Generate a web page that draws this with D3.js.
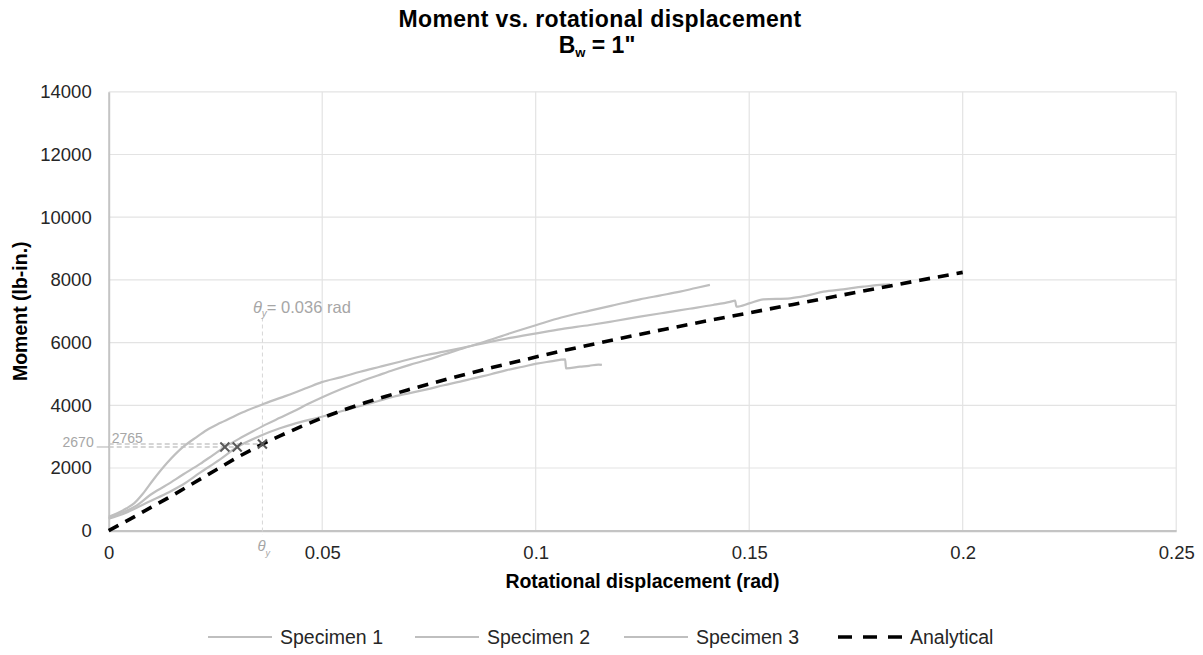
<!DOCTYPE html>
<html>
<head>
<meta charset="utf-8">
<script src="https://cdn.jsdelivr.net/npm/d3@7"></script>
<style>
  body { margin: 0; background: #fff; }
  svg { display: block; }
  text { font-family: "Liberation Sans", Arial, sans-serif; }
</style>
</head>
<body>
<svg id="chart" width="1203" height="655"></svg>
<script>
// Axis ticks
const xTicks = [0, 0.05, 0.1, 0.15, 0.2, 0.25];
const xTickLabels = ["0", "0.05", "0.1", "0.15", "0.2", "0.25"];
const yTicks = [0, 2000, 4000, 6000, 8000, 10000, 12000, 14000];
const yTickLabels = ["0", "2000", "4000", "6000", "8000", "10000", "12000", "14000"];

const seriesNames = ["Specimen 1", "Specimen 2", "Specimen 3", "Analytical"];

// Specimen 1 — rotation (rad) and moment (lb-in.)
const spec1Rot = [0, 0.002, 0.0042, 0.0060, 0.0080, 0.0104, 0.0136, 0.0175, 0.0205, 0.0230, 0.0262, 0.0292, 0.0325,
  0.0362, 0.0400, 0.0432, 0.0465, 0.0499, 0.0545, 0.0589, 0.0635, 0.0682, 0.0745, 0.0785, 0.0823, 0.0885,
  0.0940, 0.1002, 0.1060, 0.1127, 0.1185, 0.1244, 0.1300, 0.1360, 0.1415, 0.1455, 0.1467, 0.1470, 0.1500,
  0.1533, 0.1596, 0.1635, 0.1674, 0.1720, 0.1767, 0.1814, 0.1830];
const spec1Moment = [447, 560, 714, 880, 1180, 1617, 2150, 2680, 2980, 3212, 3440, 3636, 3840,
  4040, 4230, 4383, 4560, 4740, 4900, 5072, 5230, 5391, 5604, 5710, 5818, 6000,
  6150, 6296, 6430, 6561, 6690, 6826, 6950, 7080, 7200, 7300, 7337, 7145, 7250,
  7380, 7413, 7500, 7624, 7700, 7783, 7850, 7860];

// Specimen 2
const spec2Rot = [0, 0.002, 0.0042, 0.0065, 0.0097, 0.0136, 0.0175, 0.0214, 0.0245, 0.0272, 0.0305, 0.0339,
  0.0370, 0.0401, 0.0432, 0.0465, 0.0499, 0.0545, 0.0589, 0.0630, 0.0667, 0.0705, 0.0745, 0.0785, 0.0823,
  0.0885, 0.0940, 0.1002, 0.1060, 0.1127, 0.1185, 0.1244, 0.1290, 0.1338, 0.1375, 0.1408];
const spec2Moment = [400, 520, 640, 800, 1139, 1460, 1800, 2130, 2420, 2670, 2930, 3180,
  3400, 3600, 3800, 4030, 4250, 4520, 4753, 4950, 5126, 5290, 5445, 5620, 5786,
  6050, 6300, 6561, 6800, 7020, 7200, 7380, 7500, 7624, 7740, 7840];

// Specimen 3
const spec3Rot = [0, 0.002, 0.0045, 0.0080, 0.0136, 0.0175, 0.0214, 0.0260, 0.0301, 0.0354, 0.0401, 0.0432,
  0.0499, 0.0545, 0.0589, 0.0630, 0.0667, 0.0705, 0.0745, 0.0785, 0.0823, 0.0854, 0.0895, 0.0932, 0.0970,
  0.1002, 0.1035, 0.1069, 0.1071, 0.1104, 0.1125, 0.1147, 0.1155];
const spec3Moment = [380, 470, 600, 830, 1193, 1480, 1850, 2270, 2670, 3020, 3266, 3400,
  3636, 3810, 3978, 4130, 4274, 4390, 4510, 4640, 4753, 4860, 4990, 5120, 5230,
  5330, 5400, 5467, 5180, 5231, 5260, 5300, 5290];

// Analytical model
const analyticRot = [0, 0.005, 0.01, 0.015, 0.02, 0.025, 0.03, 0.036, 0.04, 0.045, 0.05, 0.055, 0.06, 0.065,
  0.07, 0.08, 0.09, 0.1, 0.11, 0.12, 0.13, 0.14, 0.15, 0.16, 0.17, 0.18, 0.19, 0.2];
const analyticMoment = [0, 370, 750, 1130, 1530, 1930, 2330, 2765, 3020, 3320, 3600, 3850, 4080, 4290,
  4490, 4860, 5210, 5540, 5850, 6140, 6420, 6690, 6950, 7210, 7470, 7730, 7990, 8240];

// Yield points
const yieldRot = 0.036;
const yieldMoment = 2765;
const testYieldMoment = 2670;
const testYieldRots = [0.0272, 0.0301];
const guideTopMoment = 6800;

const svg = d3.select("#chart");
const W = 1203, H = 655;
const margin = { left: 108.7, right: W - 1176.2, top: 91.8, bottom: H - 530.7 };

const x = d3.scaleLinear().domain([0, 0.25]).range([margin.left, W - margin.right]);
const y = d3.scaleLinear().domain([0, 14000]).range([H - margin.bottom, margin.top]);

const gridColor = "#e3e3e3";
const axisColor = "#c4c4c4";
const specColor = "#bfbfbf";
const annColor = "#a6a6a6";
const tickColor = "#262626";

// Gridlines
svg.append("g")
  .selectAll("line")
  .data(yTicks.filter(d => d > 0))
  .join("line")
  .attr("x1", x(0)).attr("x2", x(0.25))
  .attr("y1", d => y(d)).attr("y2", d => y(d))
  .attr("stroke", gridColor).attr("stroke-width", 1.2);

svg.append("g")
  .selectAll("line")
  .data(xTicks.filter(d => d > 0))
  .join("line")
  .attr("x1", d => x(d)).attr("x2", d => x(d))
  .attr("y1", y(14000)).attr("y2", y(0))
  .attr("stroke", gridColor).attr("stroke-width", 1.2);

// Axes via d3 axis generators
const yAxis = d3.axisLeft(y).tickValues(yTicks).tickFormat((d, i) => yTickLabels[i]).tickSize(0).tickPadding(17);
const gy = svg.append("g").attr("transform", `translate(${x(0)},0)`).call(yAxis);
gy.select(".domain").attr("stroke", axisColor).attr("stroke-width", 2);
gy.selectAll("text").attr("font-size", 18.5).attr("fill", tickColor).attr("font-family", "Liberation Sans, Arial, sans-serif");

const xAxis = d3.axisBottom(x).tickValues(xTicks).tickFormat((d, i) => xTickLabels[i]).tickSize(0).tickPadding(15);
const gx = svg.append("g").attr("transform", `translate(0,${y(0)})`).call(xAxis);
gx.select(".domain").attr("stroke", axisColor).attr("stroke-width", 2.2);
gx.selectAll("text").attr("font-size", 18.5).attr("fill", tickColor).attr("font-family", "Liberation Sans, Arial, sans-serif");

// Yield guide lines
const guides = svg.append("g").attr("stroke", "#c8c8c8").attr("stroke-width", 1.4).attr("fill", "none");
guides.append("line")
  .attr("x1", x(yieldRot)).attr("x2", x(yieldRot))
  .attr("y1", y(guideTopMoment)).attr("y2", y(0) + 4)
  .attr("stroke", "#d6d6d6").attr("stroke-width", 1).attr("stroke-dasharray", "4,3");
guides.append("line")
  .attr("x1", x(0)).attr("x2", x(testYieldRots[1]))
  .attr("y1", y(testYieldMoment)).attr("y2", y(testYieldMoment))
  .attr("stroke-dasharray", "5,3");
guides.append("line")
  .attr("x1", x(0)).attr("x2", x(yieldRot))
  .attr("y1", y(yieldMoment)).attr("y2", y(yieldMoment))
  .attr("stroke-dasharray", "5,3");
guides.append("line")
  .attr("x1", x(0) - 12).attr("x2", x(0))
  .attr("y1", y(testYieldMoment)).attr("y2", y(testYieldMoment))
  .attr("stroke", "#b0b0b0").attr("stroke-width", 1);

// Data lines
const specLine = d3.line().curve(d3.curveMonotoneX).x(d => x(d[0])).y(d => y(d[1]));
const line = d3.line().x(d => x(d[0])).y(d => y(d[1]));
const specimens = [
  d3.zip(spec1Rot, spec1Moment),
  d3.zip(spec2Rot, spec2Moment),
  d3.zip(spec3Rot, spec3Moment)
];
svg.append("g")
  .selectAll("path")
  .data(specimens)
  .join("path")
  .attr("d", specLine)
  .attr("fill", "none")
  .attr("stroke", specColor)
  .attr("stroke-width", 2.2)
  .attr("stroke-linejoin", "round");

svg.append("path")
  .datum(d3.zip(analyticRot, analyticMoment))
  .attr("d", line)
  .attr("fill", "none")
  .attr("stroke", "#000")
  .attr("stroke-width", 3.6)
  .attr("stroke-dasharray", "11,8");

// Yield markers
const marks = [
  [testYieldRots[0], testYieldMoment],
  [testYieldRots[1], testYieldMoment],
  [yieldRot, yieldMoment]
];
const mk = svg.append("g").attr("stroke", "#595959").attr("stroke-width", 2);
marks.forEach(([r, m]) => {
  const cx = x(r), cy = y(m), s = 4.5;
  mk.append("line").attr("x1", cx - s).attr("x2", cx + s).attr("y1", cy - s).attr("y2", cy + s);
  mk.append("line").attr("x1", cx - s).attr("x2", cx + s).attr("y1", cy + s).attr("y2", cy - s);
});

// Annotation text
svg.append("text")
  .attr("x", x(0) - 15).attr("y", y(testYieldMoment))
  .attr("text-anchor", "end").attr("font-size", 14).attr("fill", annColor)
  .text(testYieldMoment);
svg.append("text")
  .attr("x", x(0) + 3).attr("y", y(yieldMoment) - 1.5)
  .attr("font-size", 14).attr("fill", annColor)
  .text(yieldMoment);

const topLbl = svg.append("text")
  .attr("x", x(yieldRot) - 9.5).attr("y", y(guideTopMoment) - 5)
  .attr("font-size", 16.5).attr("fill", annColor);
topLbl.append("tspan").attr("font-style", "italic").text("θ");
topLbl.append("tspan").attr("font-style", "italic").attr("font-size", 10).attr("dy", 4).text("y");
topLbl.append("tspan").attr("dy", -4).text("= " + yieldRot + " rad");

const botLbl = svg.append("text")
  .attr("x", x(yieldRot) - 5).attr("y", y(0) + 20)
  .attr("font-size", 15).attr("fill", annColor);
botLbl.append("tspan").attr("font-style", "italic").text("θ");
botLbl.append("tspan").attr("font-style", "italic").attr("font-size", 9).attr("dy", 5).text("y");

// Titles
svg.append("text")
  .attr("x", 600).attr("y", 26.5)
  .attr("text-anchor", "middle").attr("font-size", 23).attr("font-weight", "bold")
  .attr("letter-spacing", 0.35).attr("fill", "#000")
  .text("Moment vs. rotational displacement");
const sub = svg.append("text")
  .attr("x", 597).attr("y", 52.5)
  .attr("text-anchor", "middle").attr("font-size", 23).attr("font-weight", "bold").attr("fill", "#000");
sub.append("tspan").text("B");
sub.append("tspan").attr("font-size", 13).attr("dy", 4).text("w");
sub.append("tspan").attr("dy", -4).text(" = 1\"");

svg.append("text")
  .attr("x", (x(0) + x(0.25)) / 2).attr("y", 588)
  .attr("text-anchor", "middle").attr("font-size", 19.5).attr("font-weight", "bold").attr("fill", "#000")
  .text("Rotational displacement (rad)");

svg.append("text")
  .attr("transform", `translate(27,${(y(0) + y(14000)) / 2}) rotate(-90)`)
  .attr("text-anchor", "middle").attr("font-size", 19.5).attr("font-weight", "bold").attr("fill", "#000")
  .text("Moment (lb-in.)");

// Legend
const legendX = [208, 415, 624, 838];
const lg = svg.append("g");
seriesNames.forEach((name, i) => {
  const lx = legendX[i], ly = 637;
  const isAnalytic = i === 3;
  lg.append("line")
    .attr("x1", lx).attr("x2", lx + 64).attr("y1", ly).attr("y2", ly)
    .attr("stroke", isAnalytic ? "#000" : specColor)
    .attr("stroke-width", isAnalytic ? 3.6 : 2.2)
    .attr("stroke-dasharray", isAnalytic ? "14,11" : null);
  lg.append("text")
    .attr("x", lx + 72).attr("y", ly).attr("dy", "0.35em")
    .attr("font-size", 19.5).attr("fill", tickColor)
    .text(name);
});
</script>
</body>
</html>
